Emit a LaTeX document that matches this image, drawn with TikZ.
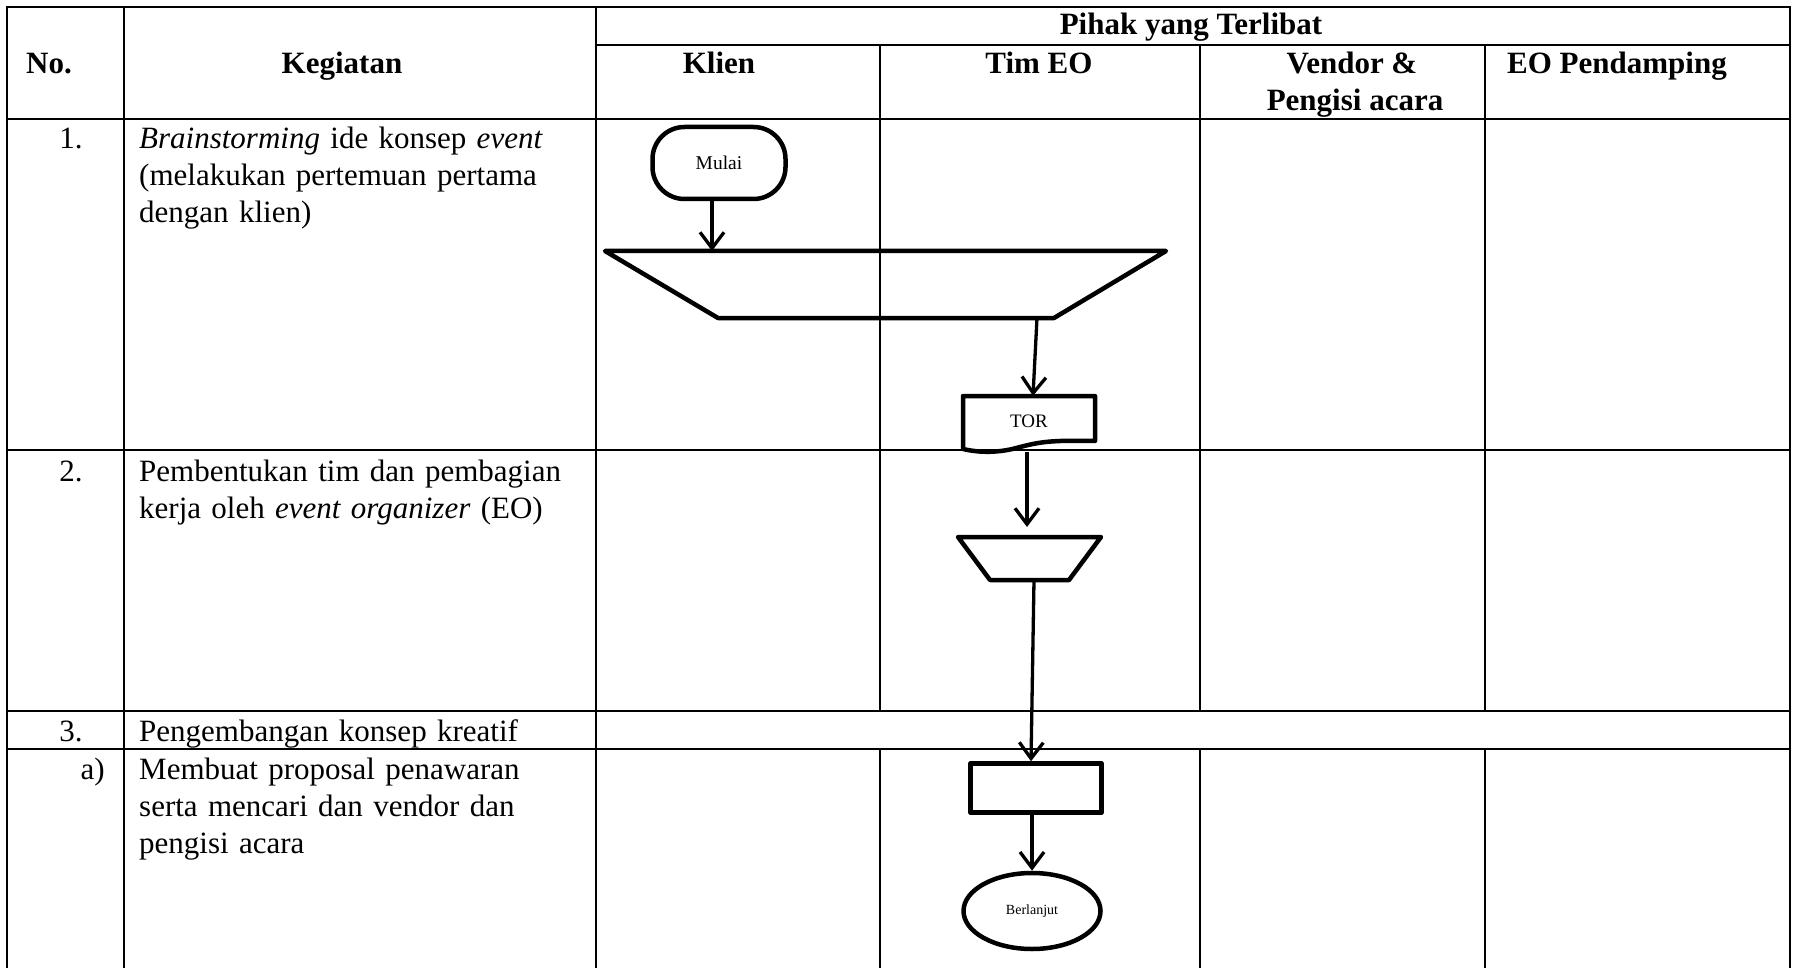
\documentclass[tikz,border=0pt]{standalone}
\usepackage{fontspec}
\setmainfont{Liberation Serif}
\usetikzlibrary{arrows.meta,shapes.geometric}
\begin{document}
\begin{tikzpicture}[x=1pt,y=-1pt,
  grid/.style={line width=2.5pt},
  shp/.style={draw,line width=4.5pt,line join=round},
  arr/.style={line width=3.3pt,-{Straight Barb[length=16pt,width=24pt]}},
  hdr/.style={font=\fontsize{31}{37}\selectfont\bfseries,inner sep=0,anchor=base},
  body/.style={font=\fontsize{31}{37}\selectfont,inner sep=0,anchor=base west,align=left,text width=460pt},
  num/.style={font=\fontsize{31}{37}\selectfont,inner sep=0,anchor=base},
]
\useasboundingbox (0,0) rectangle (1796,968);
% ---- table grid ----
\draw[grid] (7,968) -- (7,7) -- (1790,7) -- (1790,968);
\draw[grid] (124,7) -- (124,968);
\draw[grid] (596,7) -- (596,968);
\draw[grid] (596,45) -- (1790,45);
\draw[grid] (7,119) -- (1790,119);
\draw[grid] (7,450) -- (1790,450);
\draw[grid] (7,711) -- (1790,711);
\draw[grid] (7,749) -- (1790,749);
\foreach \cx in {880,1200,1485}{
  \draw[grid] (\cx,45) -- (\cx,711);
  \draw[grid] (\cx,749) -- (\cx,968);
}
% ---- headers ----
\node[hdr] (hpihak) at (1191,35) {Pihak yang Terlibat};
\node[hdr] (hno) at (49,74) {No.};
\node[hdr] (hkeg) at (342,74) {Kegiatan};
\node[hdr] (hklien) at (719,74) {Klien};
\node[hdr] (htim) at (1039,74) {Tim EO};
\node[hdr] (hvendor) at (1352,74) {Vendor \&};
\node[hdr] (hvendorb) at (1355,111) {Pengisi acara};
\node[hdr] (heo) at (1617,74) {EO Pendamping};
% ---- rows ----
\node[num] (n1) at (71,149) {1.};
\node[body] (k1) at (139,149) {\textit{Brainstorming} ide konsep \textit{event}\\(melakukan pertemuan pertama\\dengan klien)};
\node[num] (n2) at (71,481) {2.};
\node[body] (k2) at (139,481) {Pembentukan tim dan pembagian\\kerja oleh \textit{event organizer} (EO)};
\node[num] (n3) at (71,741) {3.};
\node[body] (k3) at (139,741) {Pengembangan konsep kreatif};
\node[num,anchor=base east] (na) at (105,779) {a)};
\node[body] (ka) at (139,779) {Membuat proposal penawaran\\serta mencari dan vendor dan\\pengisi acara};
% ---- flow shapes ----
\node[shp,rounded corners=32pt,minimum width=133pt,minimum height=72pt,inner sep=0,font=\fontsize{19.5}{22}\selectfont] (mulai) at (719,163) {Mulai};
\draw[shp] (605,251) -- (1166,251) -- (1054,318) -- (718,318) -- cycle;
\coordinate (trapAin) at (712,251);
\coordinate (trapAout) at (1037,318);
\node[minimum width=132pt,minimum height=50pt,inner sep=0,font=\fontsize{19}{22}\selectfont] (tor) at (1029,421) {TOR};
\draw[shp] (963,449) -- (963,396) -- (1095,396) -- (1095,441)
  .. controls (1050,440) and (1040,442) .. (1020,447)
  .. controls (1000,453) and (980,453) .. (963,449);
\coordinate (torout) at (1027,452);
\draw[shp] (958,537) -- (1101,537) -- (1069,580) -- (990,580) -- cycle;
\coordinate (trapBin) at (1027,527);
\coordinate (trapBout) at (1034,580);
\node[shp,minimum width=131pt,minimum height=49pt,inner sep=0] (proses) at (1036,788) {};
\node[shp,ellipse,minimum width=137pt,minimum height=76pt,inner sep=0,font=\fontsize{14}{16}\selectfont] (lanjut) at (1032,911) {Berlanjut};
% ---- connectors ----
\draw[arr] (mulai.south -| trapAin) -- (trapAin);
\draw[arr] (trapAout) -- ([xshift=4pt]tor.north);
\draw[arr] (torout) -- (trapBin);
\draw[arr] (trapBout) -- ([xshift=-5pt]proses.north);
\draw[arr] (proses.south -| lanjut.north) -- (lanjut.north);
\end{tikzpicture}
\end{document}
